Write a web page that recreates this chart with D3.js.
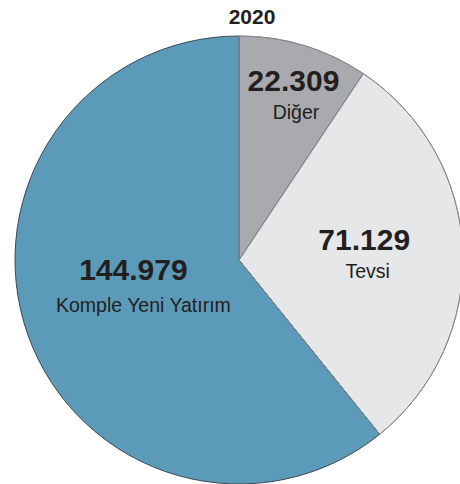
<!DOCTYPE html>
<html>
<head>
<meta charset="utf-8">
<script src="https://cdn.jsdelivr.net/npm/d3@7"></script>
<style>
  body { margin: 0; background: #fff; }
  text { font-family: "Liberation Sans", Arial, sans-serif; fill: #231f20; }
</style>
</head>
<body>
<div id="chart"></div>
<script>
// data
var categories = ["Diğer", "Tevsi", "Komple Yeni Yatırım"];
var values = [22.309, 71.129, 144.979];
var valueLabels = ["22.309", "71.129", "144.979"];
var title = "2020";

var colors = ["#a9aaad", "#e6e7e8", "#5b9ab8"];

// label placement, tuned by eye (radius, angle shift in degrees from slice middle)
var labelRadius = [188, 127, 106];
var labelShift = [0, -7, 14.6];
var nameDx = [2.5, 3.5, 10];
var nameDy = [28, 28, 32];

var width = 460, height = 484;
var cx = 239, cy = 260, r = 224;

var svg = d3.select("#chart")
  .append("svg")
  .attr("width", width)
  .attr("height", height);

svg.append("text")
  .attr("x", 252)
  .attr("y", 24)
  .attr("text-anchor", "middle")
  .style("font-size", "21px")
  .style("font-weight", "bold")
  .text(title);

var g = svg.append("g")
  .attr("transform", "translate(" + cx + "," + cy + ")");

var pie = d3.pie().sort(null).value(function(d) { return d; });
var arcs = pie(values);

var arc = d3.arc().innerRadius(0).outerRadius(r);

g.selectAll("path")
  .data(arcs)
  .enter().append("path")
  .attr("d", arc)
  .attr("fill", function(d, i) { return colors[i]; })
  .attr("stroke", function(d, i) { return i == 2 ? "#3a4a52" : "#8a8a8c"; })
  .attr("stroke-width", 1);

// redraw the light slice edges on top so they stay grey
g.selectAll("path.edge")
  .data(arcs.slice(0, 2))
  .enter().append("path")
  .attr("class", "edge")
  .attr("d", arc)
  .attr("fill", "none")
  .attr("stroke", "#8a8a8c")
  .attr("stroke-width", 1);

var labels = g.selectAll("g.lbl")
  .data(arcs)
  .enter().append("g")
  .attr("class", "lbl")
  .attr("transform", function(d, i) {
    var a = (d.startAngle + d.endAngle) / 2 + labelShift[i] * Math.PI / 180;
    var lr = labelRadius[i];
    return "translate(" + (Math.sin(a) * lr) + "," + (-Math.cos(a) * lr) + ")";
  });

labels.append("text")
  .attr("text-anchor", "middle")
  .attr("y", 11)
  .style("font-size", "30px")
  .style("font-weight", "bold")
  .text(function(d, i) { return valueLabels[i]; });

labels.append("text")
  .attr("text-anchor", "middle")
  .attr("x", function(d, i) { return nameDx[i]; })
  .attr("y", function(d, i) { return 11 + nameDy[i]; })
  .style("font-size", "19.5px")
  .text(function(d, i) { return categories[i]; });
</script>
</body>
</html>
